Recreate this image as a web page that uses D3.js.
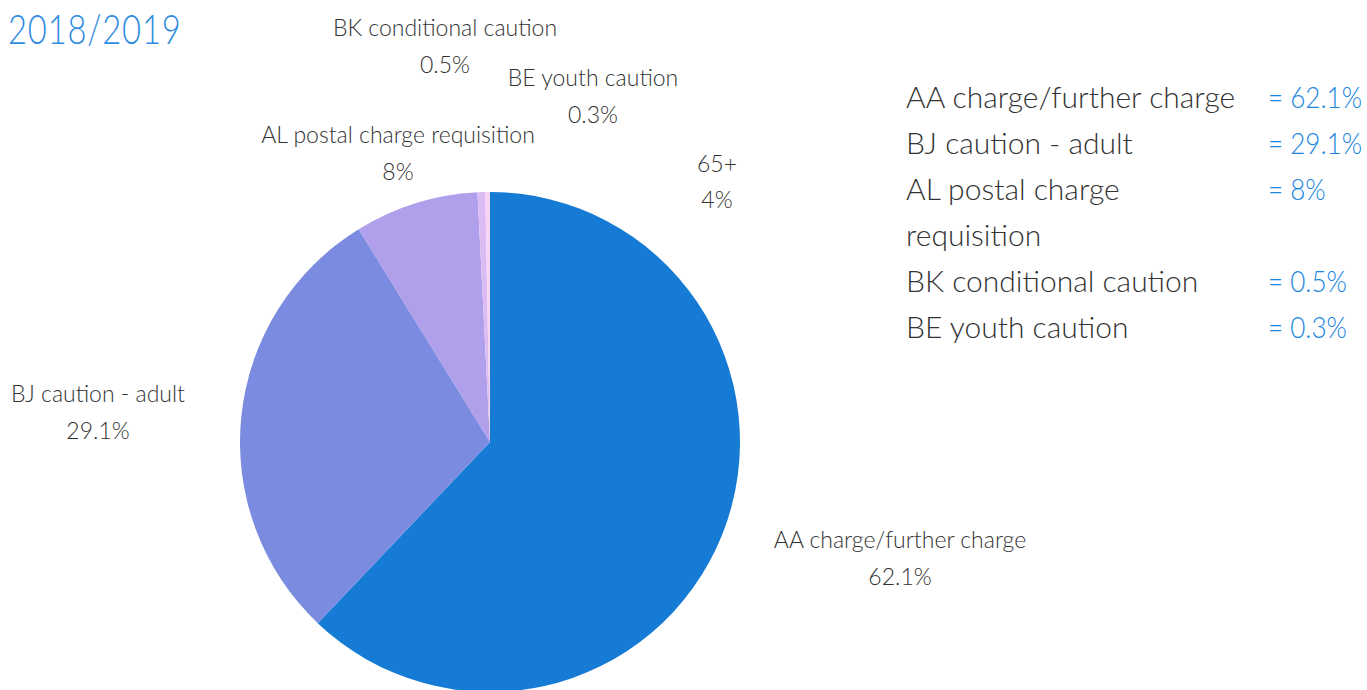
<!DOCTYPE html>
<html><head><meta charset="utf-8">
<script src="https://cdn.jsdelivr.net/npm/d3@7"></script>
<style>
body{margin:0;background:#fff;}
svg{display:block;font-family:Lato,"Open Sans",sans-serif;}
</style></head>
<body><svg id="c" width="1367" height="690"></svg>
<script>
// ---- data ----
const title = "2018/2019";
const categories = ["AA charge/further charge","BJ caution - adult","AL postal charge requisition","BK conditional caution","BE youth caution"];
const values = [62.1, 29.1, 8, 0.5, 0.3];
const valueLabels = ["62.1%","29.1%","8%","0.5%","0.3%"];
const legendNames = [["AA charge/further charge"],["BJ caution - adult"],["AL postal charge","requisition"],["BK conditional caution"],["BE youth caution"]];
const strayLabel = ["65+","4%"];

// ---- layout / style ----
const colors = ["#157bd5","#7a8be0","#b09fea","#dbbcf2","#f7d4f8"];
const cx = 490, cy = 442, R = 250;
const labelAnchors = [[900,548],[98,402],[398,143],[445,36],[593,86]];
const svg = d3.select("#c");

svg.append("g").attr("transform","translate(8,0) scale(0.8,1)")
  .append("text").attr("x",0).attr("y",44).attr("fill","#2f8ce0")
  .style("font-size","41px").style("font-weight",300).style("letter-spacing","1px").text(title);

const pie = d3.pie().sort(null).value(d=>d)(values);
const arc = d3.arc().innerRadius(0).outerRadius(R);
const g = svg.append("g").attr("transform",`translate(${cx},${cy})`);
g.selectAll("path").data(pie).join("path").attr("d",arc).attr("fill",(d,i)=>colors[i]);

const lab = svg.append("g").attr("fill","#333").style("font-size","23px").style("font-weight",300).attr("text-anchor","middle");
categories.forEach((c,i)=>{
  const [x,y] = labelAnchors[i];
  lab.append("text").attr("x",x).attr("y",y).text(c);
  lab.append("text").attr("x",x).attr("y",y+37).text(valueLabels[i]);
});
lab.append("text").attr("x",717).attr("y",172).text(strayLabel[0]);
lab.append("text").attr("x",717).attr("y",208).text(strayLabel[1]);

const leg = svg.append("g").style("font-size","30px").style("font-weight",300);
const legVals = svg.append("g").attr("transform","translate(1268,0) scale(0.87,1)")
  .style("font-size","30px").style("font-weight",300);
let row = 0;
legendNames.forEach((lines,i)=>{
  const y0 = 108 + row*46;
  legVals.append("text").attr("x",0).attr("y",y0).attr("fill","#1a86e0").text("= " + valueLabels[i]);
  lines.forEach((t,j)=>{
    leg.append("text").attr("x",906).attr("y",108+(row+j)*46).attr("fill","#333").text(t);
  });
  row += lines.length;
});
</script></body></html>
